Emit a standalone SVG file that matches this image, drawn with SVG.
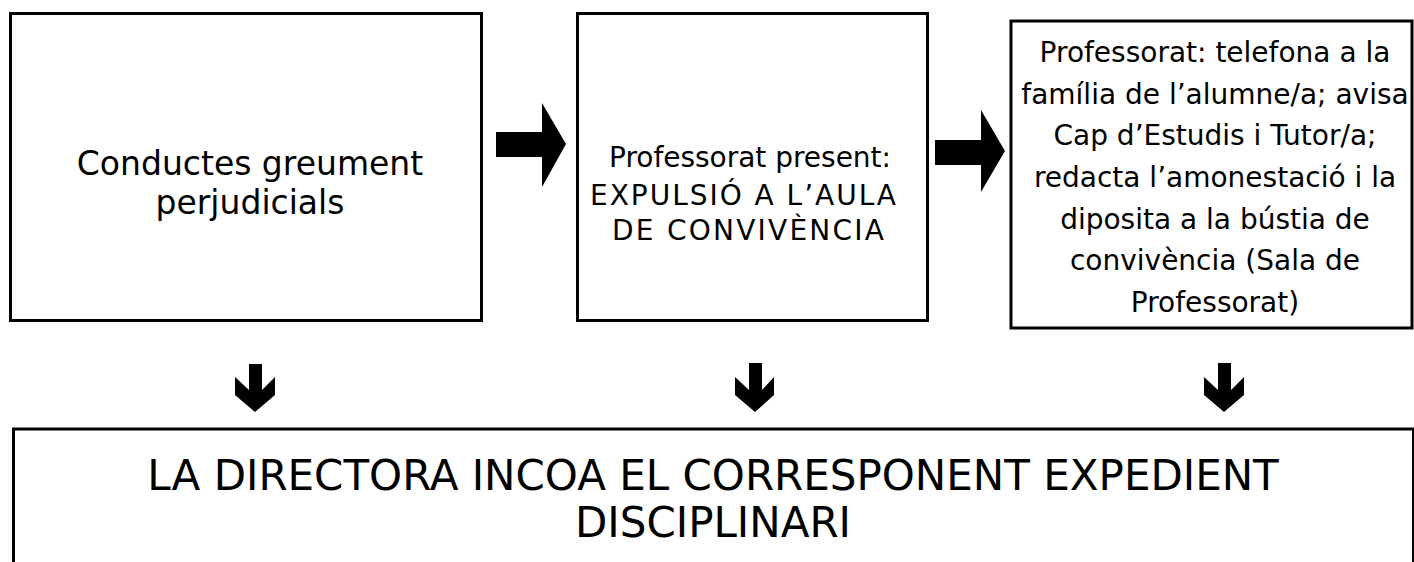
<svg xmlns="http://www.w3.org/2000/svg" width="1414" height="562" viewBox="0 0 1414 562">
<style>
.box{fill:#fff;stroke:#000;stroke-width:3}
.t{font-family:"DejaVu Sans",sans-serif;fill:#000;text-anchor:middle}
.arr{fill:#000;stroke:none}
</style>
<rect width="1414" height="562" fill="#fff"/>
<g id="node1">
<rect class="box" x="10.5" y="13.5" width="471" height="307"/>
<text class="t" font-size="33" x="250" y="175">Conductes greument</text>
<text class="t" font-size="33" x="250" y="214">perjudicials</text>
</g>
<g id="node2">
<rect class="box" x="577.5" y="13.5" width="350" height="307"/>
<text class="t" font-size="28" x="750" y="167" textLength="282" lengthAdjust="spacing">Professorat present:</text>
<text class="t" font-size="28" x="743" y="205" textLength="306" lengthAdjust="spacing">EXPULSIÓ A L’AULA</text>
<text class="t" font-size="28" x="748" y="240" textLength="272" lengthAdjust="spacing">DE CONVIVÈNCIA</text>
</g>
<g id="node3">
<rect class="box" x="1011" y="21" width="401" height="307" stroke-width="2.5"/>
<text class="t" font-size="28" x="1215" y="62">Professorat: telefona a la</text>
<text class="t" font-size="28" x="1215" y="103.7">família de l’alumne/a; avisa</text>
<text class="t" font-size="28" x="1215" y="145.3">Cap d’Estudis i Tutor/a;</text>
<text class="t" font-size="28" x="1215" y="187">redacta l’amonestació i la</text>
<text class="t" font-size="28" x="1215" y="228.7">diposita a la bústia de</text>
<text class="t" font-size="28" x="1215" y="270.3">convivència (Sala de</text>
<text class="t" font-size="28" x="1215" y="312">Professorat)</text>
</g>
<g id="node4">
<rect class="box" x="13.5" y="429" width="1400" height="160" stroke-width="6"/>
<text class="t" font-size="42" x="713" y="490">LA DIRECTORA INCOA EL CORRESPONENT EXPEDIENT</text>
<text class="t" font-size="42" x="713" y="537">DISCIPLINARI</text>
</g>
<g id="connectors">
<polygon class="arr" points="496,132 542,132 542,103 566,144 542,187 542,157 496,157"/>
<polygon class="arr" points="935,140 981,140 981,110 1005,151 981,192 981,165 935,165"/>
<polygon class="arr" points="249,364 262,364 262,390 275,377 275,395 255,412 235,395 235,377 249,390"/>
<polygon class="arr" points="749,363 762,363 762,390 774,377 774,395 755,412 735,395 735,377 749,390"/>
<polygon class="arr" points="1218,363 1231,363 1231,390 1244,377 1244,395 1224,412 1204,395 1204,377 1218,390"/>
</g>
</svg>
